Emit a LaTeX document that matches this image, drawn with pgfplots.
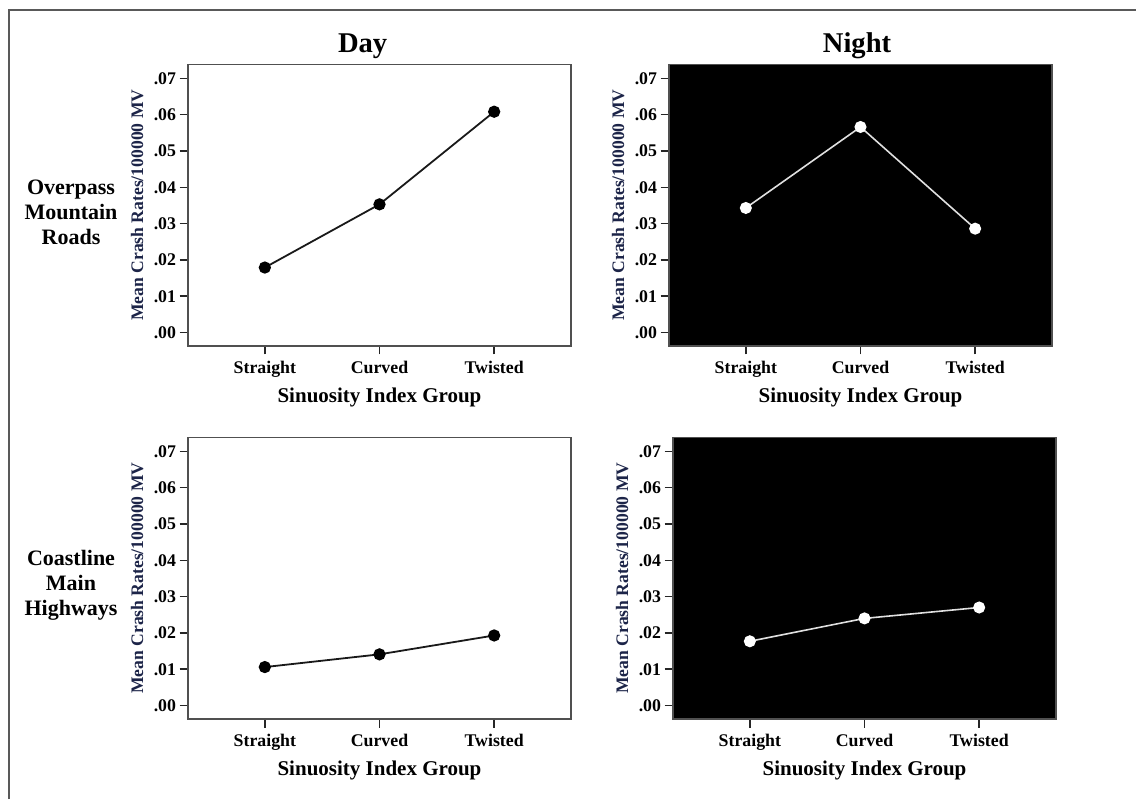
\documentclass[border=0pt]{standalone}
\usepackage{fontspec}
\setmainfont{Liberation Serif}
\usepackage{pgfplots}
\pgfplotsset{compat=1.18}
\definecolor{ylab}{RGB}{28,36,72}
\definecolor{framec}{RGB}{80,80,80}
\pgfplotsset{
  panel/.style={
    scale only axis, width=191.5pt, height=140.75pt,
    anchor=south west,
    xmin=-0.67, xmax=2.67, ymin=-0.0037, ymax=0.0738,
    scaled y ticks=false,
    xtick={0,1,2}, xticklabels={Straight,Curved,Twisted},
    ytick={0,0.01,0.02,0.03,0.04,0.05,0.06,0.07},
    yticklabels={.00,.01,.02,.03,.04,.05,.06,.07},
    tick align=outside, tick pos=left,
    major tick length=4.25pt,
    every tick/.style={line width=0.75pt, color=black!85},
    axis line style={line width=0.9pt, framec},
    ticklabel style={font=\bfseries\fontsize{8.9}{10}\selectfont},
    yticklabel style={xshift=1.8pt},
    xlabel={Sinuosity Index Group},
    ylabel={Mean Crash Rates/100000 MV},
    xlabel style={font=\bfseries\fontsize{10.5}{12}\selectfont, at={(axis description cs:0.5,-0.1815)}, anchor=center},
    ylabel style={font=\bfseries\fontsize{8.8}{10}\selectfont, color=ylab, at={(axis description cs:-0.133,0.5)}, anchor=center},
    title style={font=\bfseries\fontsize{14.3}{16}\selectfont, anchor=base, yshift=0.2pt},
  },
  night/.style={panel, axis background/.style={fill=black}},
  dayline/.style={color=black!90, line width=0.9pt, mark=*, mark size=2.6pt, mark options={fill=black, draw=black, solid}},
  nightline/.style={color=black!12, line width=0.8pt, mark=*, mark size=2.6pt, mark options={fill=white, draw=white, solid}},
}
\begin{document}
\begin{tikzpicture}
\useasboundingbox (0,0) rectangle (568pt,399.5pt);
\draw[line width=0.75pt, black!65] (4.5pt,0) -- (4.5pt,394.5pt) -- (568pt,394.5pt);

\begin{axis}[panel, at={(94pt,226.5pt)}, title={Day}, title style={at={(axis description cs:0.456,1)}}]
\addplot[dayline] coordinates {(0,0.0179) (1,0.0353) (2,0.0608)};
\end{axis}

\begin{axis}[night, at={(334.5pt,226.5pt)}, title={Night}, title style={at={(axis description cs:0.491,1)}}]
\addplot[nightline] coordinates {(0,0.0343) (1,0.0566) (2,0.0286)};
\end{axis}

\begin{axis}[panel, at={(94pt,40pt)}]
\addplot[dayline] coordinates {(0,0.0106) (1,0.0141) (2,0.0193)};
\end{axis}

\begin{axis}[night, at={(336.5pt,40pt)}]
\addplot[nightline] coordinates {(0,0.0177) (1,0.0240) (2,0.0270)};
\end{axis}

\node[align=center, font=\bfseries\fontsize{11}{12.5}\selectfont] at (35.5pt,293.5pt) {Overpass\\Mountain\\Roads};
\node[align=center, font=\bfseries\fontsize{11}{12.5}\selectfont] at (35.5pt,107pt) {Coastline\\Main\\Highways};
\end{tikzpicture}
\end{document}
